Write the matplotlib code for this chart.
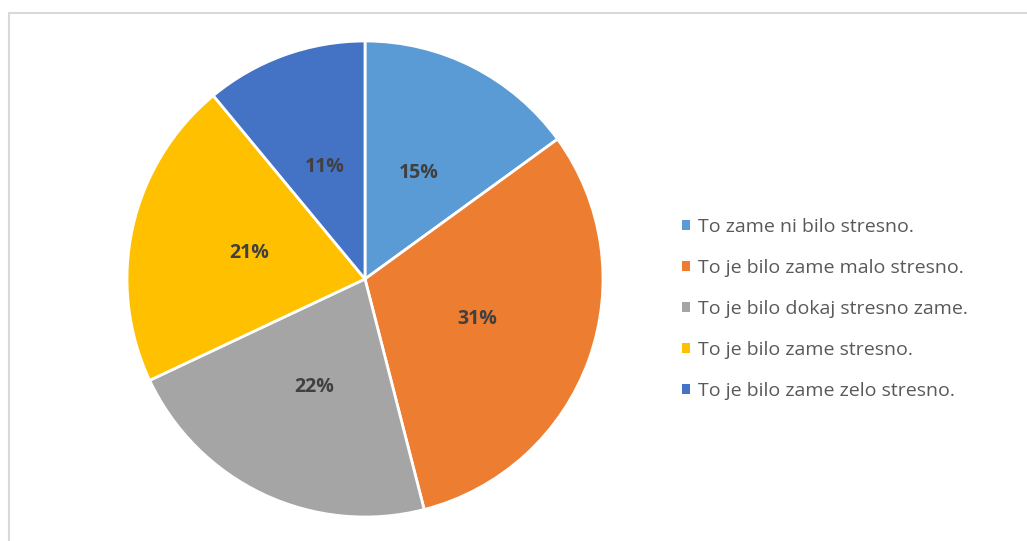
import matplotlib
matplotlib.use("Agg")
import matplotlib.pyplot as plt
from matplotlib.patches import Rectangle, Patch

# survey answers and their shares (%)
labels = [
    "To zame ni bilo stresno.",
    "To je bilo zame malo stresno.",
    "To je bilo dokaj stresno zame.",
    "To je bilo zame stresno.",
    "To je bilo zame zelo stresno.",
]
shares = [15, 31, 22, 21, 11]
colors = ["#5B9BD5", "#ED7D31", "#A5A5A5", "#FFC000", "#4472C4"]

W, H = 1027, 541
fig = plt.figure(figsize=(W / 100, H / 100), dpi=100)

# light frame around the chart area
fig.patches.append(Rectangle((9 / W, -0.05), 1.1, (H - 13) / H + 0.05,
                             transform=fig.transFigure, fill=False,
                             edgecolor="#D9D9D9", linewidth=1.5))

cx, cy, r = 365, H - 279, 238
ax = fig.add_axes([(cx - r) / W, (cy - r) / H, 2 * r / W, 2 * r / H])
wedges, _, autotexts = ax.pie(
    shares, colors=colors, startangle=90, counterclock=False,
    autopct="%d%%", pctdistance=0.5,
    wedgeprops=dict(edgecolor="white", linewidth=2),
    textprops=dict(fontsize=14, fontweight="bold", color="#404040",
                   family=["Open Sans", "DejaVu Sans"]),
)
ax.set_xlim(-1, 1)
ax.set_ylim(-1, 1)

handles = [Patch(facecolor=c, edgecolor="none") for c in colors]
leg = fig.legend(handles, labels, loc="center left",
                 bbox_to_anchor=(664 / W, (H - 309) / H), frameon=False,
                 handlelength=0.42, handleheight=0.42, handletextpad=0.42,
                 labelspacing=1.18, prop=dict(family="Open Sans", size=14))
for t in leg.get_texts():
    t.set_color("#595959")

fig.savefig("out.png", dpi=100)
